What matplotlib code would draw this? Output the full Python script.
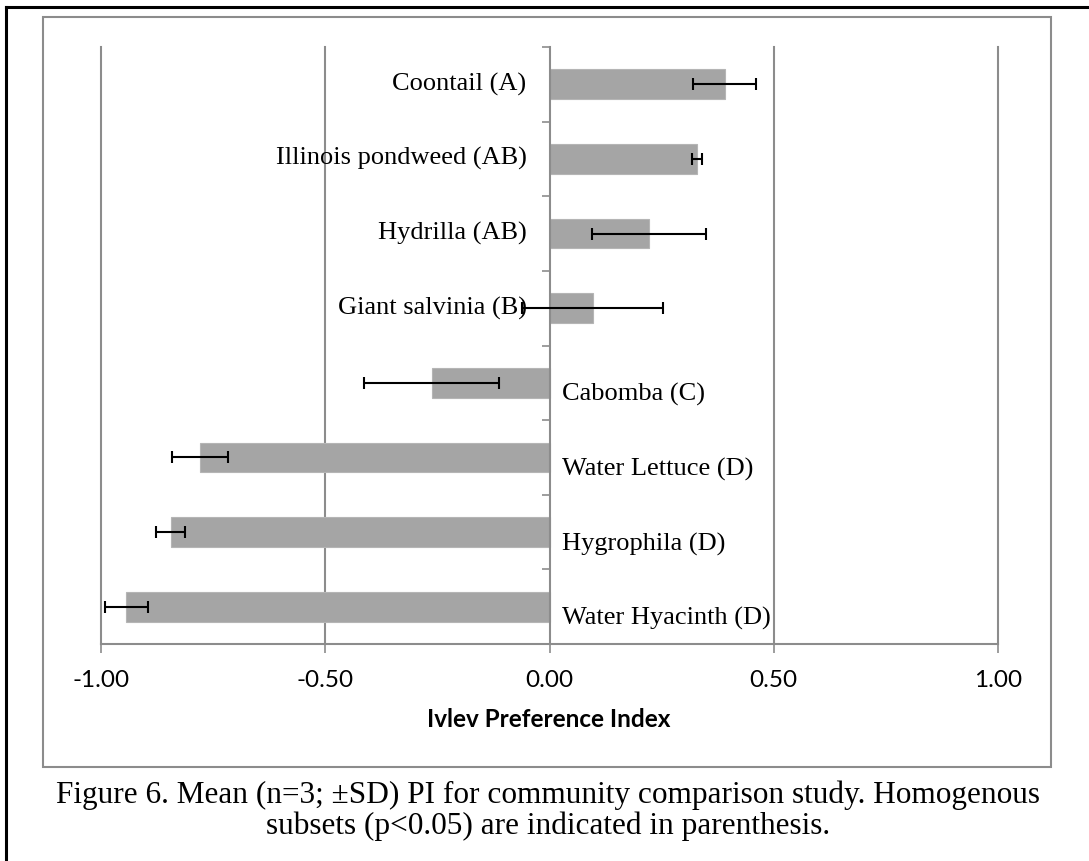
import matplotlib
matplotlib.use("Agg")
import matplotlib.pyplot as plt
from matplotlib.patches import Rectangle
from matplotlib.lines import Line2D
import numpy as np

# Ivlev preference index per plant, mean and SD (n=3)
plants = ["Coontail (A)", "Illinois pondweed (AB)", "Hydrilla (AB)",
          "Giant salvinia (B)", "Cabomba (C)", "Water Lettuce (D)",
          "Hygrophila (D)", "Water Hyacinth (D)"]
pi_mean = [0.391, 0.329, 0.222, 0.096, -0.263, -0.779, -0.845, -0.944]
pi_sd = [0.070, 0.011, 0.127, 0.157, 0.150, 0.063, 0.033, 0.048]
xticks = [-1.0, -0.5, 0.0, 0.5, 1.0]

W, H = 1089, 861
fig = plt.figure(figsize=(W / 100, H / 100), dpi=100)
ax = fig.add_axes([101 / W, 1 - 644 / H, (998 - 101) / W, (644 - 47) / H])

grid_col = "#8c8c8c"
y = np.arange(len(plants))

ax.barh(y, pi_mean, height=0.4, color="#a5a5a5", edgecolor="#b5b5b5",
        linewidth=0.8, zorder=2)
ax.errorbar(pi_mean, y, xerr=pi_sd, fmt="none", ecolor="black",
            elinewidth=1.5, capsize=4, capthick=1.5, zorder=3)

# vertical gridlines, the zero line doubles as the category axis
for v in xticks:
    if v != 0:
        ax.axvline(v, color=grid_col, lw=1.5, zorder=1, clip_on=False)

ax.set_xlim(-1, 1)
ax.set_ylim(len(plants) - 0.5, -0.5)
ax.set_xticks(xticks)
ax.set_xticklabels(["%.2f" % v for v in xticks], fontfamily="Lato", fontsize=17.5)
ax.tick_params(axis="x", direction="out", length=6.5, width=1.2,
               color=grid_col, pad=12.5)

ax.spines["top"].set_visible(False)
ax.spines["right"].set_visible(False)
ax.spines["bottom"].set_color(grid_col)
ax.spines["bottom"].set_linewidth(1.5)
ax.spines["left"].set_position(("data", 0))
ax.spines["left"].set_color(grid_col)
ax.spines["left"].set_linewidth(1.5)
ax.set_yticks(np.arange(-0.5, len(plants), 1.0))
ax.set_yticklabels([])
ax.tick_params(axis="y", direction="out", length=6, width=1.2, color=grid_col)

# category names sit on the opposite side of the axis from the bar
for i, (name, v) in enumerate(zip(plants, pi_mean)):
    if v >= 0:
        ax.annotate(name, (0, i), xytext=(-23, 0), textcoords="offset pixels",
                    ha="right", va="center", fontfamily="Liberation Serif",
                    fontsize=19)
    else:
        ax.annotate(name, (0, i), xytext=(13, -12), textcoords="offset pixels",
                    ha="left", va="center", fontfamily="Liberation Serif",
                    fontsize=19)

fig.text(549 / W, 1 - 727 / H, "Ivlev Preference Index", ha="center",
         va="baseline", fontfamily="Lato", fontweight="bold", fontsize=17.5)

# chart frame and page border
fig.patches.append(Rectangle((43.3 / W, 1 - 766.7 / H), (1050.7 - 43.3) / W,
                             (766.7 - 17.3) / H, transform=fig.transFigure,
                             fill=False, edgecolor=grid_col, lw=1.5))
fig.lines.append(Line2D([6 / W, 1], [1 - 7 / H, 1 - 7 / H],
                        transform=fig.transFigure, color="black", lw=2.2))
fig.lines.append(Line2D([6 / W, 6 / W], [0, 1 - 7 / H],
                        transform=fig.transFigure, color="black", lw=2.2))

fig.text(548 / W, 1 - 803 / H,
         "Figure 6. Mean (n=3; \u00b1SD) PI for community comparison study. Homogenous",
         ha="center", va="baseline", fontfamily="Liberation Serif", fontsize=22.5)
fig.text(548 / W, 1 - 834 / H,
         "subsets (p<0.05) are indicated in parenthesis.",
         ha="center", va="baseline", fontfamily="Liberation Serif", fontsize=22.5)

fig.savefig("out.png", dpi=100)
